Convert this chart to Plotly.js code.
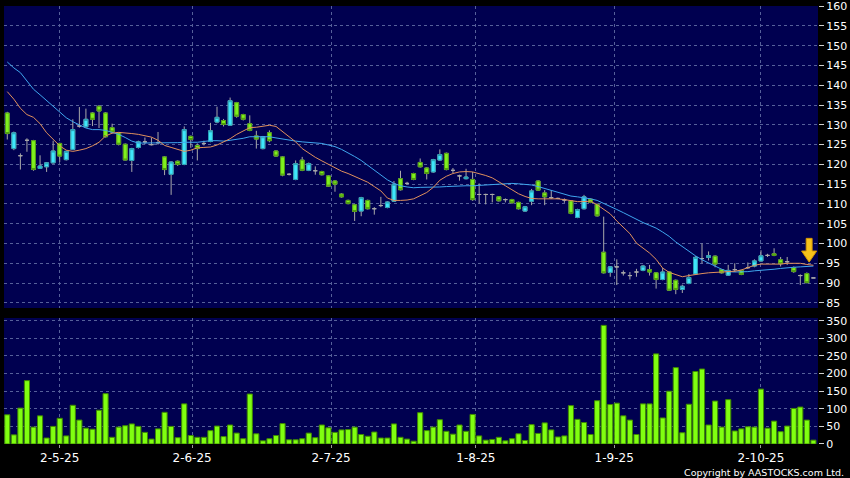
<!DOCTYPE html>
<html>
<head>
<meta charset="utf-8">
<script src="https://cdn.plot.ly/plotly-3.0.1.min.js"></script>
<style>html,body{margin:0;padding:0;background:#000;}#chart{width:850px;height:478px;}</style>
</head>
<body>
<div id="chart"></div>
<script>
// Daily OHLC (trading-day index 0..123), volume and moving averages
const openP = [133.0,124.0,122.2,126.1,126.0,119.0,119.4,120.4,125.3,121.2,
123.8,129.7,129.5,133.0,134.7,133.0,129.3,128.0,125.1,121.0,
124.3,125.7,125.0,125.5,121.9,117.5,120.8,120.0,127.1,124.8,
125.3,125.8,130.7,131.1,129.9,135.6,132.6,130.3,127.2,124.0,
128.0,123.4,121.9,117.5,116.2,121.1,118.5,118.4,118.2,117.1,
115.8,112.5,110.9,109.8,108.2,110.9,108.8,109.6,109.1,110.7,
116.4,115.2,117.7,120.5,119.1,118.1,121.1,122.8,118.5,117.1,
116.4,116.2,112.4,112.4,112.4,111.8,111.1,111.1,110.4,108.2,
110.7,115.8,112.8,111.6,111.4,111.0,110.8,106.6,108.8,111.2,
109.9,97.8,92.7,94.1,92.6,91.9,92.8,93.2,93.4,92.6,
90.9,92.8,90.7,88.4,89.9,92.3,96.2,96.5,96.8,93.4,
92.0,93.4,93.2,93.9,94.3,95.6,97.0,97.4,95.9,95.4,
93.9,91.9,92.4,91.3];
const closeP = [127.8,128.0,122.2,126.1,118.7,119.6,120.4,123.4,122.1,123.3,
128.8,129.7,131.4,131.4,133.5,127.0,128.2,125.1,121.1,124.0,
125.7,125.7,125.0,125.5,118.7,120.6,120.0,128.8,126.3,124.0,
125.3,128.5,131.9,130.1,136.1,132.2,131.4,128.6,126.4,127.0,
126.0,122.1,117.3,117.5,120.2,118.5,120.2,118.4,117.4,114.5,
115.0,111.8,110.1,108.1,111.6,108.8,108.8,109.6,110.5,115.0,
113.6,115.2,116.2,119.4,117.7,121.2,122.5,118.7,118.5,117.1,
116.8,111.1,112.4,112.4,112.4,110.8,111.1,110.3,108.8,109.3,
113.3,113.5,111.8,111.6,111.4,111.0,107.6,108.6,111.8,110.4,
107.0,92.6,94.1,94.1,92.6,91.9,92.8,94.3,92.8,90.9,
92.8,88.2,88.4,89.2,91.4,96.5,96.2,96.9,94.8,92.6,
93.2,93.4,92.2,93.9,95.6,96.9,97.0,97.0,94.9,95.4,
92.9,91.9,90.1,91.3];
const highP = [133.3,128.3,122.8,126.6,126.2,122.3,120.6,126.0,125.5,123.5,
131.4,134.5,134.1,133.2,135.0,133.2,130.3,128.2,125.3,124.2,
126.0,126.8,126.8,128.2,122.1,120.8,121.0,129.6,127.3,125.3,
126.0,130.5,134.6,131.5,136.9,135.8,132.8,132.4,128.5,127.2,
128.6,123.6,122.1,117.8,121.0,121.9,120.5,119.5,118.4,117.3,
116.0,112.7,111.1,110.0,111.8,111.1,109.2,111.8,110.7,115.8,
118.4,115.6,117.9,121.5,119.3,121.4,123.8,123.0,119.1,117.4,
118.9,118.1,115.2,112.6,112.6,112.0,111.4,111.3,110.6,109.5,
113.8,116.0,113.5,113.5,111.6,111.4,111.0,108.8,112.3,111.4,
110.1,106.8,94.3,96.0,93.2,92.8,93.6,94.6,94.6,92.8,
93.8,93.0,90.9,89.6,92.3,96.8,100.0,98.0,97.0,93.6,
94.6,95.0,93.4,95.2,96.0,98.3,97.4,98.8,96.6,96.6,
94.2,92.2,92.7,91.3];
const lowP = [126.3,123.6,118.7,123.2,118.4,118.9,118.1,120.2,120.6,121.0,
123.6,129.3,129.3,129.7,129.2,126.8,127.8,124.8,121.0,118.1,
124.0,125.1,124.8,125.0,117.3,112.3,119.6,119.8,124.2,121.0,
124.8,125.6,130.4,129.6,129.8,131.8,131.1,128.4,124.0,123.8,
125.6,121.9,117.0,117.2,116.0,118.3,118.3,117.4,117.2,114.3,
113.1,111.6,109.9,105.7,106.9,108.6,107.3,109.2,108.9,110.5,
113.4,114.9,116.0,119.2,116.2,117.9,120.9,118.5,117.8,115.9,
116.2,110.8,110.1,109.9,110.4,110.6,110.4,110.1,108.6,108.0,
109.7,113.3,109.7,111.3,111.2,110.3,107.4,106.4,108.6,110.2,
106.8,92.4,91.6,89.5,91.9,90.9,91.6,93.0,91.9,88.6,
90.7,88.0,87.2,87.5,89.7,92.1,95.0,95.7,94.0,92.4,
91.8,92.8,92.0,93.6,94.0,95.4,96.6,96.8,94.2,94.6,
92.6,89.5,90.0,91.3];
const volume = [83,26,102,180,48,80,17,50,73,23,
110,68,45,42,96,143,19,48,52,57,
50,33,14,43,90,50,18,114,24,19,
19,38,51,21,54,31,15,142,29,9,
15,24,58,12,12,15,31,18,54,46,
33,40,41,48,27,22,34,17,17,57,
19,14,8,89,38,48,69,36,28,54,
36,84,23,11,13,19,9,15,29,10,
55,30,60,40,20,23,109,70,61,27,
123,337,112,116,80,68,27,114,114,256,
74,150,217,32,113,206,213,54,122,48,
126,37,43,49,48,156,45,65,35,51,
101,105,68,11];
const maShort = [138.4,136.5,134.2,132.6,131.9,130.3,128.0,126.3,124.7,123.6,
123.3,123.6,124.0,124.7,125.6,127.2,127.9,128.1,128.0,127.8,
127.6,127.3,126.9,126.1,124.8,124.3,123.8,123.3,123.6,124.2,
124.3,124.4,124.9,125.6,126.5,127.6,128.5,129.3,129.4,129.6,
129.9,129.6,128.3,127.1,125.7,124.0,122.8,121.8,120.9,120.0,
119.1,118.3,117.7,117.0,116.2,115.5,114.4,113.3,111.5,110.9,
110.9,111.0,111.3,112.0,112.9,114.2,116.0,117.0,117.7,118.1,
118.2,118.1,117.7,117.2,116.6,115.7,114.6,113.6,112.6,111.9,
111.4,111.3,111.3,111.4,111.3,111.1,110.9,110.6,110.6,110.7,
109.8,108.6,107.5,105.7,104.0,102.5,100.1,98.9,97.6,96.0,
93.8,92.7,92.1,91.6,91.9,92.2,92.4,92.6,92.7,92.8,
92.8,93.0,93.3,93.9,94.5,94.8,94.8,94.8,94.8,95.0,
95.0,95.0,94.7,94.5];
const maLong = [145.9,144.4,143.2,141.2,139.0,137.6,136.2,134.7,133.2,131.8,
130.8,130.0,129.2,128.8,128.8,128.6,128.1,127.6,126.8,125.9,
125.4,125.4,125.4,125.4,125.4,125.5,125.5,125.6,125.6,125.6,
125.8,126.0,126.0,125.9,126.1,126.3,126.6,127.0,127.0,127.0,
127.0,126.7,126.4,126.1,125.9,125.7,125.6,125.5,125.3,124.9,
124.5,123.8,123.0,122.0,121.0,119.8,118.6,117.3,116.1,115.2,
114.6,114.3,114.1,114.2,114.2,114.3,114.3,114.4,114.5,114.5,
114.6,114.6,114.7,114.8,114.9,115.1,115.2,115.2,115.1,115.0,
114.8,114.4,113.9,113.5,113.0,112.5,112.0,111.8,111.6,111.3,
110.9,110.2,109.3,108.6,107.8,106.9,106.1,105.3,104.6,103.9,
102.9,101.8,100.4,99.2,98.0,96.9,95.9,95.0,94.3,93.5,
92.9,92.8,92.8,92.9,93.1,93.2,93.3,93.5,93.7,93.9,
94.0,94.1,94.2,94.3];
const tickPos = [8, 28.2, 49.4, 71.5, 92.6, 115];
const tickLabels = ['2-5-25','2-6-25','2-7-25','1-8-25','1-9-25','2-10-25'];
const priceTicks = [85,90,95,100,105,110,115,120,125,130,135,140,145,150,155,160];
const volTicks = [0,50,100,150,200,250,300,350];

const idx = openP.map((_, i) => i);
// bodies-only subset (non-doji candles), no wicks
const bIdx = idx.filter(i => openP[i] !== closeP[i]);
const bodyX = bIdx;
const bodyO = bIdx.map(i => openP[i]);
const bodyC = bIdx.map(i => closeP[i]);
const bodyH = bIdx.map(i => Math.max(openP[i], closeP[i]));
const bodyL = bIdx.map(i => Math.min(openP[i], closeP[i]));

const gridCol = '#56609a';
const font = 'DejaVu Sans, Verdana, sans-serif';

const traces = [
  { type: 'candlestick', x: idx, open: openP, high: highP, low: lowP, close: closeP,
    xaxis: 'x', yaxis: 'y', whiskerwidth: 0, hoverinfo: 'skip', showlegend: false,
    increasing: { line: { color: '#a9a9a9', width: 1 }, fillcolor: '#a9a9a9' },
    decreasing: { line: { color: '#a9a9a9', width: 1 }, fillcolor: '#a9a9a9' } },
  { type: 'candlestick', x: bodyX, open: bodyO, high: bodyH, low: bodyL, close: bodyC,
    xaxis: 'x', yaxis: 'y', whiskerwidth: 0, hoverinfo: 'skip', showlegend: false,
    increasing: { line: { color: '#2a9fb4', width: 1 }, fillcolor: '#3fe6fb' },
    decreasing: { line: { color: '#4f9a10', width: 1 }, fillcolor: '#7ff01e' } },
  { type: 'scatter', mode: 'lines', x: idx, y: maLong, xaxis: 'x', yaxis: 'y',
    line: { color: '#3fa6ee', width: 1 }, hoverinfo: 'skip', showlegend: false },
  { type: 'scatter', mode: 'lines', x: idx, y: maShort, xaxis: 'x', yaxis: 'y',
    line: { color: '#e0905c', width: 1 }, hoverinfo: 'skip', showlegend: false },
  { type: 'bar', x: idx, y: volume, xaxis: 'x', yaxis: 'y2',
    marker: { color: '#80ff10', line: { color: '#3f8a00', width: 1 } },
    hoverinfo: 'skip', showlegend: false }
];

const layout = {
  width: 850, height: 478,
  margin: { l: 4, r: 32, t: 6, b: 34 },
  paper_bgcolor: '#000000', plot_bgcolor: '#000050',
  showlegend: false, bargap: 0.22, boxgap: 0.15,
  font: { family: font, color: '#ffffff' },
  xaxis: {
    anchor: 'y2', range: [-0.5, 123.7], rangeslider: { visible: false },
    tickmode: 'array', tickvals: tickPos, ticktext: tickLabels,
    showgrid: true, gridcolor: gridCol, gridwidth: 1, griddash: '3px,3px',
    ticks: 'outside', ticklen: 3, tickcolor: '#9a9a9a',
    tickfont: { family: font, size: 12, color: '#ffffff' },
    zeroline: false, showline: false, fixedrange: true
  },
  yaxis: {
    domain: [0.3105, 1], range: [83.7, 160.05], side: 'right',
    tickmode: 'array', tickvals: priceTicks,
    showgrid: true, gridcolor: gridCol, gridwidth: 1, griddash: '3px,3px',
    ticks: 'outside', ticklen: 5, tickcolor: '#d0d0d0',
    tickfont: { family: font, size: 11, color: '#ffffff' },
    zeroline: false, showline: false, fixedrange: true
  },
  yaxis2: {
    domain: [0, 0.2877], range: [0, 358], side: 'right',
    tickmode: 'array', tickvals: volTicks,
    showgrid: true, gridcolor: gridCol, gridwidth: 1, griddash: '3px,3px',
    ticks: 'outside', ticklen: 5, tickcolor: '#d0d0d0',
    tickfont: { family: font, size: 11, color: '#ffffff' },
    zeroline: false, showline: false, fixedrange: true
  },
  shapes: [{
    type: 'path', xref: 'x', yref: 'y',
    path: 'M 121.9 101.3 L 122.8 101.3 L 122.8 98.1 L 123.5 98.1 L 122.35 95.3 L 121.2 98.1 L 121.9 98.1 Z',
    fillcolor: '#f7c21b', line: { color: '#d99a00', width: 1 }
  }],
  annotations: [{
    xref: 'paper', yref: 'paper', x: 1.0344, y: -0.066, xanchor: 'right', yanchor: 'middle',
    text: 'Copyright by AASTOCKS.com Ltd.', showarrow: false,
    font: { family: font, size: 9.5, color: '#ffffff' }
  }]
};

Plotly.newPlot('chart', traces, layout, { staticPlot: true, displayModeBar: false });
</script>
</body>
</html>
